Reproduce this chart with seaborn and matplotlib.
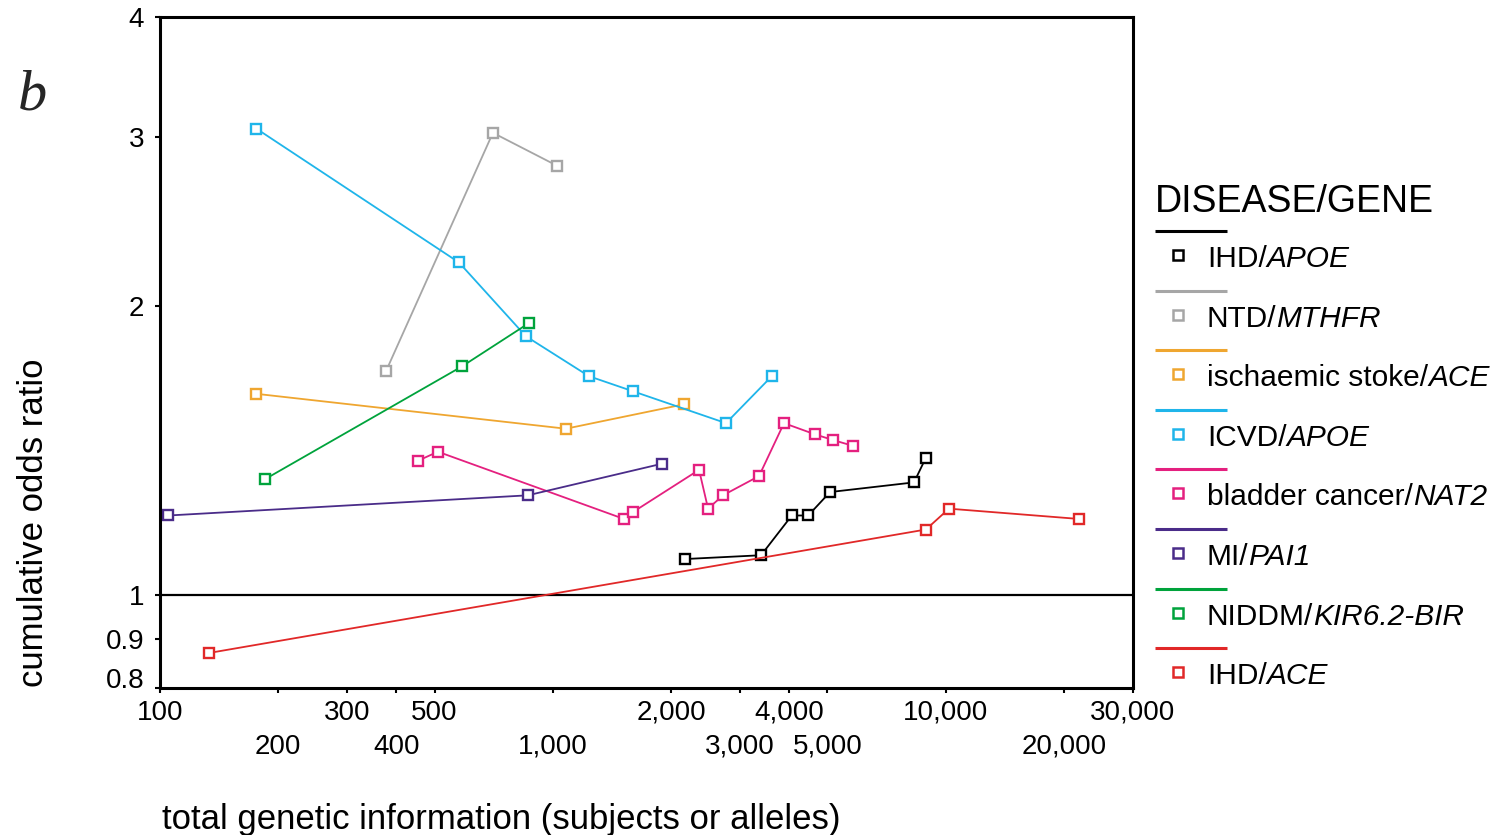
import matplotlib
matplotlib.use("Agg")
import matplotlib.pyplot as plt
from matplotlib.ticker import NullLocator, FixedLocator, FixedFormatter
import seaborn as sns

# Cumulative meta-analysis: odds ratio vs accumulated sample size
diseases = ["IHD", "NTD", "ischaemic stoke", "ICVD",
            "bladder cancer", "MI", "NIDDM", "IHD"]
genes = ["APOE", "MTHFR", "ACE", "APOE", "NAT2", "PAI1", "KIR6.2-BIR", "ACE"]
colors = ["#000000", "#A6A6A6", "#EFA630", "#1FB5EA",
          "#E4207F", "#4A2C89", "#00A33C", "#E12828"]

ihd_apoe_n = [2170, 3390, 4060, 4470, 5080, 8310, 8910]
ihd_apoe_or = [1.09, 1.10, 1.21, 1.21, 1.28, 1.31, 1.39]
ntd_mthfr_n = [376, 704, 1025]
ntd_mthfr_or = [1.71, 3.03, 2.80]
stroke_ace_n = [176, 1080, 2160]
stroke_ace_or = [1.62, 1.49, 1.58]
icvd_apoe_n = [176, 577, 854, 1236, 1600, 2760, 3610]
icvd_apoe_or = [3.06, 2.22, 1.86, 1.69, 1.63, 1.51, 1.69]
bladder_nat2_n = [454, 510, 1518, 1600, 2357, 2485, 2712, 3350, 3878, 4651, 5170, 5812]
bladder_nat2_or = [1.38, 1.41, 1.20, 1.22, 1.35, 1.23, 1.27, 1.33, 1.51, 1.47, 1.45, 1.43]
mi_pai1_n = [105, 864, 1897]
mi_pai1_or = [1.21, 1.27, 1.37]
niddm_kir_n = [185, 587, 870]
niddm_kir_or = [1.32, 1.73, 1.92]
ihd_ace_n = [133, 8910, 10200, 21860]
ihd_ace_or = [0.87, 1.17, 1.23, 1.20]

totals = [ihd_apoe_n, ntd_mthfr_n, stroke_ace_n, icvd_apoe_n,
          bladder_nat2_n, mi_pai1_n, niddm_kir_n, ihd_ace_n]
odds = [ihd_apoe_or, ntd_mthfr_or, stroke_ace_or, icvd_apoe_or,
        bladder_nat2_or, mi_pai1_or, niddm_kir_or, ihd_ace_or]

# x tick labels sit on two staggered rows
x_ticks_upper = [100, 300, 500, 2000, 4000, 10000, 30000]
x_labels_upper = ["100", "300", "500", "2,000", "4,000", "10,000", "30,000"]
x_ticks_lower = [200, 400, 1000, 3000, 5000, 20000]
x_labels_lower = ["200", "400", "1,000", "3,000", "5,000", "20,000"]
y_ticks = [0.8, 0.9, 1, 2, 3, 4]
y_tick_labels = ["0.8", "0.9", "1", "2", "3", "4"]

sns.set_theme(style="ticks")
plt.rcParams["font.family"] = ["Liberation Sans", "DejaVu Sans"]

W, H = 1499, 835
fig = plt.figure(figsize=(W / 100, H / 100), dpi=100)
ax = fig.add_axes([160 / W, 1 - 688 / H, 973 / W, 671 / H])
ax.set_xscale("log")
ax.set_yscale("log")

for xs, ys, c in zip(totals, odds, colors):
    sns.lineplot(x=xs, y=ys, color=c, estimator=None, sort=False,
                 marker="s", markersize=6.5, markerfacecolor="white",
                 markeredgecolor=c, markeredgewidth=1.7, linewidth=1.3,
                 ax=ax)

ax.axhline(1, color="black", linewidth=1.6, zorder=1)

ax.set_xlim(100, 30000)
ax.set_ylim(0.8, 4)
ax.xaxis.set_major_locator(FixedLocator(x_ticks_upper))
ax.xaxis.set_major_formatter(FixedFormatter(x_labels_upper))
ax.xaxis.set_minor_locator(FixedLocator(x_ticks_lower))
ax.xaxis.set_minor_formatter(FixedFormatter(x_labels_lower))
ax.yaxis.set_minor_locator(NullLocator())
ax.set_yticks(y_ticks)
ax.set_yticklabels(y_tick_labels)
for lbl in ax.get_yticklabels():
    if lbl.get_text() == "0.8":
        lbl.set_va("baseline")

ax.tick_params(axis="both", which="both", direction="out", length=3.5,
               width=1.5, color="black", labelsize=20, labelcolor="black")
ax.tick_params(axis="x", which="major", pad=5)
ax.tick_params(axis="x", which="minor", pad=29.5)
ax.tick_params(axis="y", pad=8)
for sp in ax.spines.values():
    sp.set_visible(True)
    sp.set_color("black")
    sp.set_linewidth(2.2)

ax.set_xlabel("total genetic information (subjects or alleles)",
              fontsize=25, loc="left", color="black")
ax.xaxis.set_label_coords(0.002, -0.171)
ax.set_ylabel("cumulative odds ratio", fontsize=25, color="black")
ax.yaxis.set_label_coords(-0.113, 0.246)

fig.text(18 / W, 1 - 110 / H, "b", fontsize=42, style="italic",
         family="Liberation Serif", va="baseline", ha="left")

# Key: a coloured rule above each entry, an open square and the name
lax = fig.add_axes([0, 0, 1, 1], facecolor="none")
lax.set_xlim(0, W)
lax.set_ylim(H, 0)
lax.axis("off")
lax.text(1155, 212, "DISEASE/GENE", fontsize=27, va="baseline", ha="left",
         color="black")
for i, (d, g, c) in enumerate(zip(diseases, genes, colors)):
    ly = 231 + i * 59.6
    lax.plot([1155, 1227], [ly, ly], color=c, linewidth=2.2,
             solid_capstyle="butt")
    lax.plot([1178], [ly + 24], marker="s", markersize=6.5,
             markerfacecolor="white", markeredgecolor=c, markeredgewidth=1.8)
    t1 = lax.text(1207, ly + 36, d + "/", fontsize=21.5, va="baseline",
                  ha="left", color="black")
    lax.annotate(g, xy=(1, 0), xycoords=t1, va="bottom", ha="left",
                 fontsize=21.5, style="italic", color="black")

fig.savefig("out.png", dpi=100)
